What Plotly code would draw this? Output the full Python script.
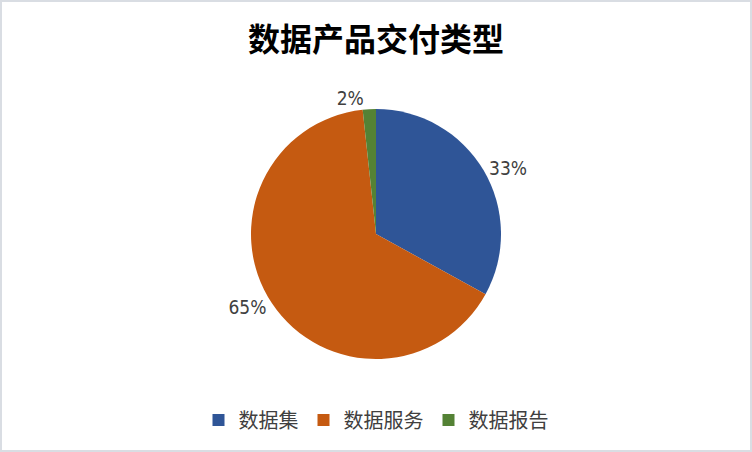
import plotly.graph_objects as go

labels = ["数据集", "数据服务", "数据报告"]
values = [33.0, 65.3, 1.7]
colors = ["#2F5597", "#C55A11", "#548235"]

W, H = 752, 452
ML, MR, MT, MB = 60, 60, 109, 93

fig = go.Figure(go.Pie(
    labels=labels,
    values=values,
    sort=False,
    direction="clockwise",
    rotation=0,
    marker=dict(colors=colors, line=dict(width=0)),
    textinfo="percent",
    texttemplate="%{percent:.0%}",
    textposition="outside",
    textfont=dict(family="Liberation Sans Narrow, DejaVu Sans Condensed, Liberation Sans",
                  size=19, color="#404040"),
    hoverinfo="label+percent",
))

# thin grey frame round the whole chart
pw, ph = W - ML - MR, H - MT - MB
fig.add_shape(
    type="rect", xref="paper", yref="paper",
    x0=-(ML - 1) / pw, x1=1 + (MR - 1) / pw,
    y0=-(MB - 1) / ph, y1=1 + (MT - 1) / ph,
    line=dict(color="#D9DDE3", width=2),
)

fig.update_layout(
    width=W, height=H,
    margin=dict(l=ML, r=MR, t=MT, b=MB, autoexpand=False),
    paper_bgcolor="white",
    title=dict(
        text="<b>数据产品交付类型</b>",
        x=0.5, xanchor="center", y=0.912, yanchor="middle",
        font=dict(family="Noto Sans CJK SC", size=32, color="#000000"),
    ),
    legend=dict(
        orientation="h", x=0.5, xanchor="center", y=-0.244, yanchor="middle",
        font=dict(family="Noto Sans CJK SC", size=20, color="#404040"),
        itemwidth=30,
    ),
    showlegend=True,
)

# drop the browser's default 8px body margin so the chart sits at the page corner
fig.write_html("out.html", config={"displayModeBar": False},
               post_script="document.body.style.margin='0';")
